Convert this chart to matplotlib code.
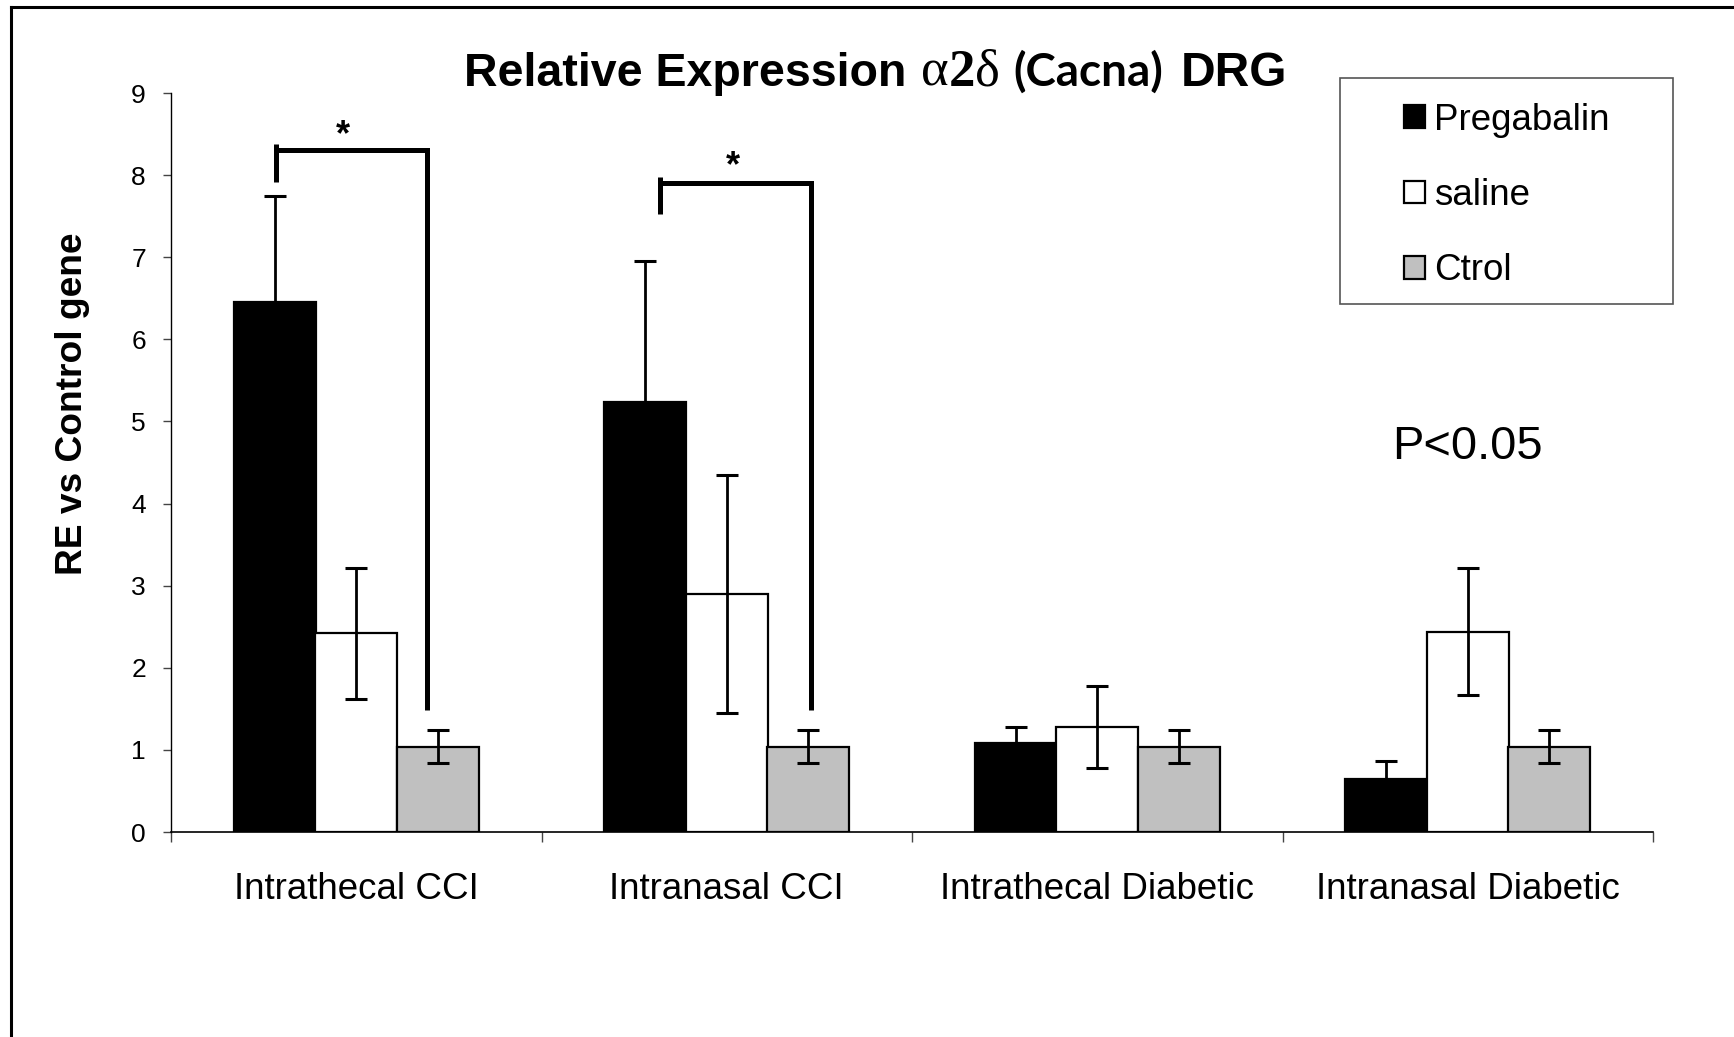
import numpy as np
import matplotlib
matplotlib.use("Agg")
import matplotlib.pyplot as plt
from matplotlib.lines import Line2D
from matplotlib.patches import Rectangle, Patch

# ---------------- data ----------------
categories = ["Intrathecal CCI", "Intranasal CCI", "Intrathecal Diabetic", "Intranasal Diabetic"]
series_names = ["Pregabalin", "saline", "Ctrol"]
pregabalin = [6.45, 5.24, 1.08, 0.64]
pregabalin_err = [1.30, 1.71, 0.20, 0.23]
saline = [2.42, 2.90, 1.28, 2.44]
saline_err = [0.80, 1.45, 0.50, 0.77]
ctrol = [1.04, 1.04, 1.04, 1.04]
ctrol_err = [0.20, 0.20, 0.20, 0.20]
y_ticks = list(range(0, 10))

# significance brackets: (x_left, y_left_bottom, y_left_top, y_bar, x_right, y_right_bottom)
brackets = [(-0.2175, 7.92, 8.38, 8.31, 0.19, 1.48),
            (0.8197, 7.53, 7.98, 7.91, 1.2265, 1.48)]
stars = [(-0.037, 8.59), (1.0175, 8.21)]
p_text = "P<0.05"

# ---------------- figure ----------------
plt.rcParams['font.family'] = ['Liberation Sans', 'DejaVu Sans']
W, H = 1734, 1037
fig = plt.figure(figsize=(W / 100, H / 100), dpi=100)
fig.patch.set_facecolor('white')
ax = fig.add_axes([171 / W, 1 - 832 / H, (1653 - 171) / W, (832 - 93) / H])

x = np.arange(len(categories))
offsets = [-0.22, 0.0, 0.22]
colors = ['black', 'white', '#c0c0c0']
values = [pregabalin, saline, ctrol]
errors = [pregabalin_err, saline_err, ctrol_err]
bw = 0.222
for vals, errs, col, off in zip(values, errors, colors, offsets):
    ax.bar(x + off, vals, bw, color=col, edgecolor='black', linewidth=1.6,
           yerr=errs, zorder=2,
           error_kw=dict(ecolor='black', elinewidth=2.0, capsize=8, capthick=2.2, zorder=3))

ax.set_xlim(-0.5, 3.5)
ax.set_ylim(0, 9)
ax.set_xticks(np.arange(-0.5, 4.0, 1.0))
ax.set_xticklabels([])
ax.set_xticks(x, minor=True)
ax.set_xticklabels(categories, minor=True, fontsize=26.5)
ax.tick_params(axis='x', which='major', length=7, width=1, color='#444444', direction='out')
ax.tick_params(axis='x', which='minor', length=0, pad=29)
ax.set_yticks(y_ticks)
ax.tick_params(axis='y', length=6, width=1, color='#444444', labelsize=19, pad=12)
for s in ['top', 'right']:
    ax.spines[s].set_visible(False)
ax.spines['left'].set_linewidth(1.0)
ax.spines['bottom'].set_linewidth(1.2)

# brackets and stars
for (xl, ylb, ylt, ybar, xr, yrb) in brackets:
    ax.plot([xl, xl], [ylb, ylt], color='black', lw=3.6, solid_capstyle='butt', zorder=4)
    ax.plot([xl, xr, xr], [ybar, ybar, yrb], color='black', lw=3.6,
            solid_capstyle='butt', solid_joinstyle='miter', zorder=4)
for (sx, sy) in stars:
    ax.annotate('*', xy=(sx, sy), xytext=(0, -13), textcoords='offset points',
                ha='center', va='baseline', fontsize=26, fontweight='bold')

# y label
fig.text(73 / W, 1 - 404 / H, "RE vs Control gene", rotation=90, ha='center', va='center',
         fontsize=26.7, fontweight='bold')

# P value
fig.text(1392 / W, 1 - 459 / H, p_text, fontsize=33.8, ha='left', va='baseline')

# title built from pieces
renderer = fig.canvas.get_renderer()
base_y = 1 - 86 / H
groups = [
    (464, [("Relative Expression", dict(family='Liberation Sans', weight='bold', size=33.5))]),
    (921, [("α", dict(family='Liberation Serif', weight='normal', size=38)),
           ("2", dict(family='Liberation Serif', weight='bold', size=38)),
           ("δ", dict(family='Liberation Serif', weight='normal', size=38))]),
    (1013, [("(Cacna)", dict(family='Lato', weight='bold', size=33))]),
    (1181, [("DRG", dict(family='Liberation Sans', weight='bold', size=34.5))]),
]
for start, parts in groups:
    xp = start
    for txt, props in parts:
        t = fig.text(xp / W, base_y, txt, ha='left', va='baseline', **props)
        bb = t.get_window_extent(renderer=renderer)
        xp = bb.x1

# legend
handles = [Patch(facecolor=c, edgecolor='black', linewidth=1.6) for c in colors]
fig.legend(handles, series_names, loc='center', bbox_to_anchor=(1507 / W, 1 - 195.5 / H),
           frameon=False, fontsize=26.5, handlelength=0.57, handleheight=0.57,
           handletextpad=0.25, labelspacing=1.1, borderpad=0)
fig.add_artist(Rectangle((1340 / W, 1 - 304 / H), (1673 - 1340) / W, (304 - 78) / H,
                         transform=fig.transFigure, fill=False, edgecolor='#555555', linewidth=1.2))

# outer frame (left and top)
fig.add_artist(Line2D([11 / W, 11 / W], [0, 1 - 7 / H], transform=fig.transFigure,
                      color='black', lw=2.2, solid_capstyle='projecting'))
fig.add_artist(Line2D([11 / W, 1], [1 - 7 / H, 1 - 7 / H], transform=fig.transFigure,
                      color='black', lw=2.2, solid_capstyle='projecting'))

fig.savefig("out.png", dpi=100, facecolor='white')
